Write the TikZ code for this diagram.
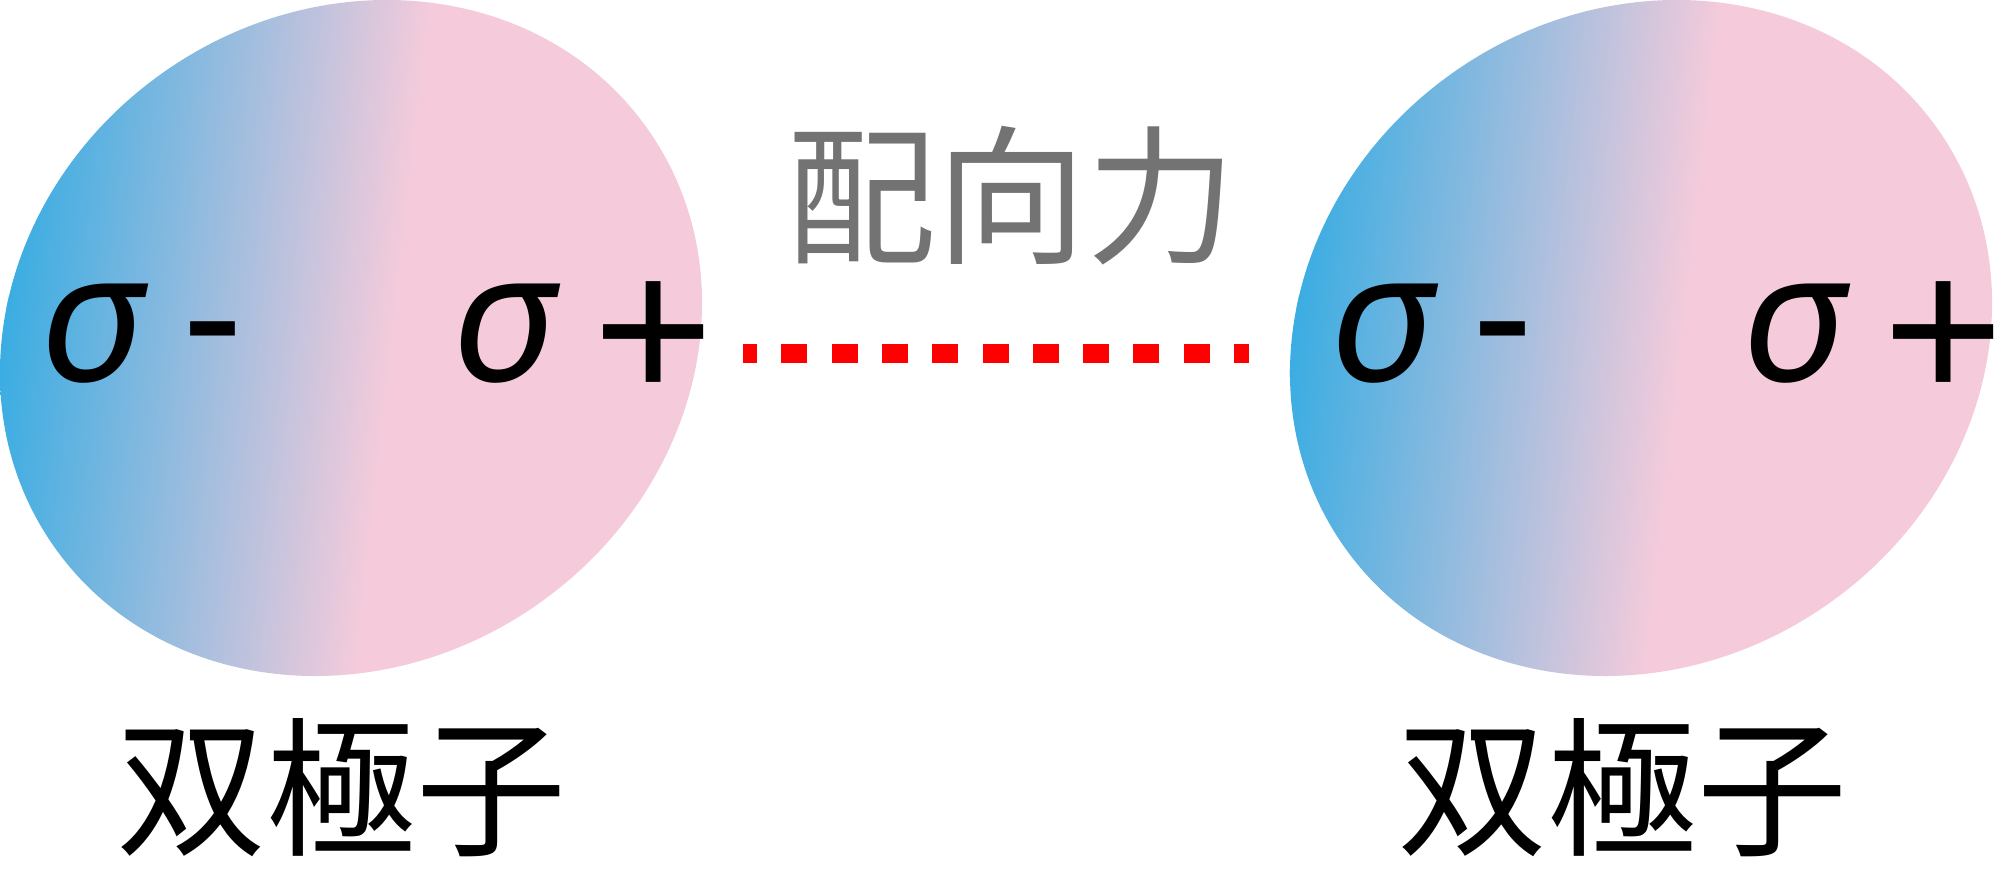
\documentclass[tikz,border=0pt]{standalone}
\usepackage{fontspec}
\setmainfont{Liberation Sans}
\newfontfamily\cjkfont{Noto Sans CJK JP}
\newfontfamily\sigmafont{Noto Sans}
\definecolor{dipblue}{RGB}{59,173,226}
\definecolor{dippink}{RGB}{245,203,219}
\definecolor{forcegray}{RGB}{115,115,115}
\definecolor{forcered}{RGB}{255,0,0}
\tikzset{
  sigmaglyph/.style={font=\sigmafont\itshape\fontsize{182}{182}\selectfont, inner sep=0pt, anchor=base},
  minusglyph/.style={font=\fontsize{183}{183}\selectfont, inner sep=0pt, anchor=base},
  plusglyph/.style={font=\fontsize{206}{206}\selectfont, inner sep=0pt, anchor=center},
  dipolelabel/.style={font=\cjkfont\fontsize{150}{150}\selectfont, inner sep=0pt, text=black},
  forcelabel/.style={font=\cjkfont\fontsize{150}{150}\selectfont, inner sep=0pt, text=forcegray},
  bondline/.style={draw=forcered, line width=19pt, dash pattern=on 26pt off 24.3pt, dash phase=12pt}
}
\newcommand\drawdipoleblob[1]{%
  \begin{scope}
    \clip[rotate around={34.9:({#1+351},-338)}] ({#1+351},-338) ellipse [x radius=362.9, y radius=325.2];
    \begin{scope}[transform canvas={rotate around={-6.4:({#1+392},-371)}}]
      \fill[dipblue] ({#1-400},-1300) rectangle ({#1+3},600);
      \shade[left color=dipblue,right color=dippink] ({#1+2},-1300) rectangle ({#1+392},600);
      \fill[dippink] ({#1+391},-1300) rectangle ({#1+1100},600);
    \end{scope}
  \end{scope}}
\begin{document}
\begin{tikzpicture}[x=1pt,y=1pt]
  \useasboundingbox (0,0) rectangle (2003,-896);
  \fill[white] (0,0) rectangle (2003,-896);
  \drawdipoleblob{0}
  \drawdipoleblob{1290}
  % left dipole
  \node[sigmaglyph] (sigLneg) at (91,-381) {σ};
  \node[minusglyph] (signLneg) at (213,-377) {-};
  \node[sigmaglyph] (sigLpos) at (503,-381) {σ};
  \node[plusglyph] (signLpos) at (653.5,-341) {+};
  % right dipole
  \node[sigmaglyph] (sigRneg) at (1381,-381) {σ};
  \node[minusglyph] (signRneg) at (1503,-377) {-};
  \node[sigmaglyph] (sigRpos) at (1793,-381) {σ};
  \node[plusglyph] (signRpos) at (1943.5,-341) {+};
  % labels
  \node[dipolelabel] (labelL) at (341.5,-788) {双極子};
  \node[dipolelabel] (labelR) at (1622,-788) {双極子};
  \node[forcelabel] (force) at (1011.5,-196) {配向力};
  % orientation force
  \coordinate (dotA) at (743,-353.5);
  \coordinate (dotB) at (1249,-353.5);
  \draw[bondline] (dotA) -- (dotB);
\end{tikzpicture}
\end{document}
